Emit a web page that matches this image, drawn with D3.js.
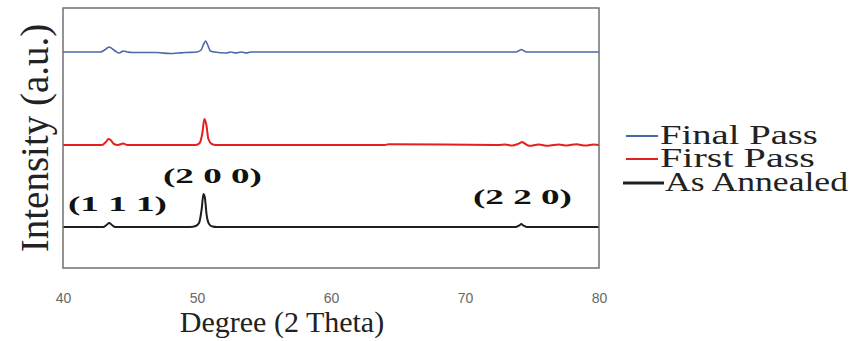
<!DOCTYPE html>
<html><head><meta charset="utf-8">
<script src="https://cdn.jsdelivr.net/npm/d3@7"></script>
<style>body{margin:0;background:#fff}</style>
</head><body>
<svg id="c" width="858" height="341"></svg>
<script>
// ---- data ----
const xTicks = [40, 50, 60, 70, 80];
const seriesNames = ["Final Pass", "First Pass", "As Annealed"];
const seriesColors = ["#4a6aa6", "#e3201e", "#1e1e1e"];
const offsets = [216, 123, 41];

const thetaFinal = [40, 42.8, 43.1, 43.3, 43.45, 43.6, 43.9, 44.2, 44.5, 44.8, 45.2, 47.0, 47.4, 48.0, 48.6, 49.2, 50.0, 50.3, 50.5, 50.65, 50.8, 51.0, 51.3, 52.2, 52.5, 52.9, 53.3, 53.7, 54.0, 73.8, 74.05, 74.2, 74.35, 74.6, 80];
const valFinal   = [0,   0,    2,    4,    5,    4,    1,    -1,   1,    0,    -0.5, -0.5, -1,  -1.5, -1,   -0.5, 0,    2,    8,    11,    7,    1,    0,    -1,   0,    -1,   0,    -1,   0,    0,    1.5,  2.5,  1.5,  0,    0];

const thetaFirst = [40, 42.9, 43.2, 43.4, 43.55, 43.8, 44.1, 44.5, 44.8, 45.1, 49.9, 50.2, 50.4, 50.55, 50.7, 50.85, 51.1, 51.4, 64.0, 64.3, 72.5, 73.0, 73.5, 73.9, 74.1, 74.25, 74.45, 74.8, 75.5, 76.2, 77.0, 77.6, 78.3, 79.0, 79.6, 80];
const valFirst   = [0,  0,    3,    6,    5,     1,    0,    1.5,  0,    0,    0,    2,    12,   26,    20,   6,     1,    0,    0,    0.8,  0,    0.6,  -0.6, 0.8,  2,    3,     1.5,  -0.8, 0.5,  -0.8, 0.6,  -0.5, 0.8,  -0.6, 0.5,  0];

const thetaAnneal = [40, 43.0, 43.25, 43.45, 43.65, 43.9, 49.5, 49.9, 50.15, 50.35, 50.48, 50.58, 50.72, 50.9, 51.15, 51.5, 73.8, 74.05, 74.2, 74.35, 74.6, 80];
const valAnneal   = [0,  0,    2,     4,     2,     0,    0,    1,    4,     18,    33,    30,    12,    3,    0.5,   0,    0,    1.5,   3,    1.5,   0,    0];

const peakLabels = ["(1  1  1)", "(2  0  0)", "(2  2  0)"];
const xLabel = "Degree (2 Theta)";
const yLabel = "Intensity (a.u.)";

// ---- layout ----
const svg = d3.select("#c");
const L = 63, R = 599, T = 8, B = 268;
const x = d3.scaleLinear().domain([40, 80]).range([L, R]);
const y = d3.scaleLinear().domain([0, 260]).range([B, T]);
const serif = "'Liberation Serif', 'Times New Roman', serif";

// horizontally stretched text to a target width
function stretchedText(px, py, target, txt, size, weight, fill) {
  const g = svg.append("g");
  const t = g.append("text").attr("x", 0).attr("y", 0)
    .style("font-family", serif).style("font-size", size + "px")
    .style("font-weight", weight).attr("fill", fill).text(txt);
  const w = t.node().getComputedTextLength();
  g.attr("transform", `translate(${px},${py}) scale(${target / w},1)`);
}

// x axis tick labels
const ax = svg.append("g").attr("transform", `translate(0,${B})`)
  .call(d3.axisBottom(x).tickValues(xTicks).tickSize(0).tickPadding(25));
ax.select(".domain").remove();
ax.selectAll("text").attr("font-family", "'Liberation Sans', Arial, sans-serif")
  .attr("font-size", 14).attr("fill", "#666");

// series
const series = [
  {t: thetaFinal, v: valFinal},
  {t: thetaFirst, v: valFirst},
  {t: thetaAnneal, v: valAnneal}
];
const widths = [1.6, 2.0, 2.0];
const line = d3.line().x(d => x(d[0])).y(d => y(d[1])).curve(d3.curveMonotoneX);
series.forEach((s, i) => {
  const pts = s.t.map((t, j) => [t, s.v[j] + offsets[i]]);
  svg.append("path").datum(pts).attr("d", line)
    .attr("fill", "none").attr("stroke", seriesColors[i])
    .attr("stroke-width", widths[i]).attr("stroke-linejoin", "round");
});

// frame
svg.append("rect").attr("x", L).attr("y", T).attr("width", R - L).attr("height", B - T)
  .attr("fill", "none").attr("stroke", "#707070").attr("stroke-width", 1.5);

// peak labels
const peakPos = [[68, 211, 99], [163, 183, 99], [473, 204, 99]];
peakLabels.forEach((lab, i) => {
  stretchedText(peakPos[i][0], peakPos[i][1], peakPos[i][2], lab, 21, "bold", "#111");
});

// axis titles
svg.append("text").attr("x", 282).attr("y", 332).attr("text-anchor", "middle")
  .style("font-family", serif).style("font-size", "30px").attr("fill", "#222").text(xLabel);
svg.append("text").attr("transform", "translate(48,138) rotate(-90)").attr("text-anchor", "middle")
  .style("font-family", serif).style("font-size", "39px").attr("fill", "#222").text(yLabel);

// legend
const legY = [144, 167, 191];
const legLines = [[626, 658, 136, 2], [626, 658, 159, 2], [623, 664, 183, 3]];
const legW = [158, 155, 183];
seriesNames.forEach((n, i) => {
  const ll = legLines[i];
  svg.append("line").attr("x1", ll[0]).attr("x2", ll[1]).attr("y1", ll[2]).attr("y2", ll[2])
    .attr("stroke", seriesColors[i]).attr("stroke-width", ll[3]);
  stretchedText(i === 2 ? 665 : 660, legY[i], legW[i], n, 27, "normal", "#222");
});
</script>
</body></html>
